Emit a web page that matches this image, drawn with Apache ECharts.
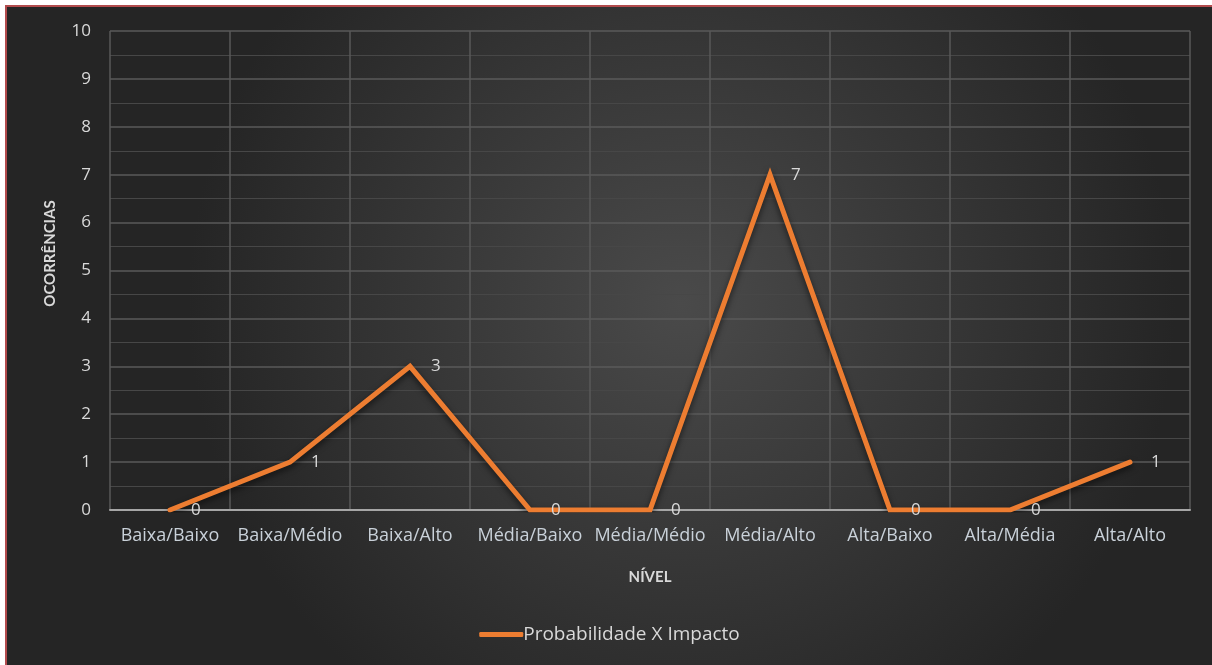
<!DOCTYPE html>
<html>
<head>
<meta charset="utf-8">
<script src="https://cdn.jsdelivr.net/npm/echarts@6/dist/echarts.min.js"></script>
<style>
  html, body { margin: 0; padding: 0; background: #ffffff; width: 1212px; height: 665px; overflow: hidden; }
  #frameTop { position: absolute; left: 5px; top: 5px; width: 1207px; height: 2px; background: #b24b4d; }
  #frameLeft { position: absolute; left: 5px; top: 5px; width: 2px; height: 660px; background: #b24b4d; }
  #chart { position: absolute; left: 7px; top: 7px; width: 1205px; height: 658px; }
</style>
</head>
<body>
<div id="frameTop"></div>
<div id="frameLeft"></div>
<div id="chart"></div>
<script>
const categories = ['Baixa/Baixo', 'Baixa/Médio', 'Baixa/Alto', 'Média/Baixo', 'Média/Médio', 'Média/Alto', 'Alta/Baixo', 'Alta/Média', 'Alta/Alto'];
const occurrences = [0, 1, 3, 0, 0, 7, 0, 0, 1];
const seriesName = 'Probabilidade X Impacto';
const xTitle = 'NÍVEL';
const yTitle = 'OCORRÊNCIAS';
const yMin = 0, yMax = 10, yStep = 1;

const FONT = '"Open Sans", Lato, sans-serif';
const ORANGE = '#ed7d31';
const chart = echarts.init(document.getElementById('chart'));
chart.setOption({
  backgroundColor: {
    type: 'radial', x: 0.56, y: 0.45, r: 0.75,
    colorStops: [{ offset: 0, color: '#4a4a4a' }, { offset: 1, color: '#252525' }]
  },
  textStyle: { fontFamily: FONT },
  grid: { left: 103, right: 22, top: 24, bottom: 155, containLabel: false },
  legend: {
    data: [{ name: seriesName, itemStyle: { color: ORANGE, opacity: 1 } }],
    left: 'center', top: 613,
    icon: 'roundRect', itemWidth: 44, itemHeight: 5, itemGap: 10,
    textStyle: { color: '#d9d9d9', fontSize: 19, fontFamily: FONT, padding: [0, 0, 0, -5] }
  },
  xAxis: {
    type: 'category', data: categories, boundaryGap: true,
    name: xTitle, nameLocation: 'middle', nameGap: 60,
    nameTextStyle: { color: '#d9d9d9', fontSize: 15, fontWeight: 'bold', fontFamily: 'Lato, sans-serif' },
    axisLine: { show: true, lineStyle: { color: '#a6a6a6', width: 2 } },
    axisTick: { show: false },
    axisLabel: { color: '#c9d1d9', fontSize: 18, margin: 17, interval: 0, fontFamily: FONT },
    splitLine: { show: true, interval: 0, lineStyle: { color: '#585858', width: 1.5 } }
  },
  yAxis: {
    type: 'value', min: yMin, max: yMax, interval: yStep,
    name: yTitle, nameLocation: 'middle', nameGap: 52,
    nameTextStyle: { color: '#d9d9d9', fontSize: 15, fontWeight: 'bold', fontFamily: 'Lato, sans-serif', padding: [0, 0, 0, 34] },
    axisLine: { show: false }, axisTick: { show: false },
    axisLabel: { color: '#d9d9d9', fontSize: 17, margin: 19, fontFamily: FONT },
    splitLine: { show: true, lineStyle: { color: '#5a5a5a', width: 1.5 } },
    minorTick: { show: false, splitNumber: 2 },
    minorSplitLine: { show: true, lineStyle: { color: '#474747', width: 1 } }
  },
  series: [{
    name: seriesName, type: 'line', data: occurrences,
    symbol: 'circle', symbolSize: 2, showSymbol: true, smooth: false,
    lineStyle: { color: ORANGE, width: 5, shadowColor: 'rgba(0,0,0,0.6)', shadowBlur: 6, shadowOffsetY: 3, cap: 'round', join: 'miter' },
    itemStyle: { color: ORANGE },
    label: { show: true, position: 'right', distance: 20, color: '#d9d9d9', fontSize: 17, fontFamily: FONT },
    animation: false
  }],
  animation: false
});
</script>
</body>
</html>
